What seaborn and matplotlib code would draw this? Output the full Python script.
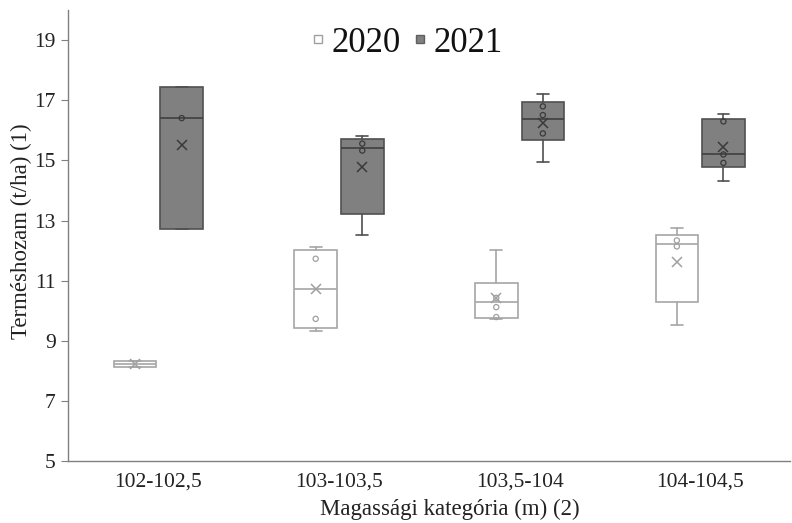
import numpy as np
import pandas as pd
import matplotlib
matplotlib.use("Agg")
import matplotlib.pyplot as plt
from matplotlib.lines import Line2D
import seaborn as sns

# data (t/ha)
categories = ["102-102,5", "103-103,5", "103,5-104", "104-104,5"]
years = ["2020", "2021"]

# box stats per category: lower whisker, Q1, median, Q3, upper whisker, mean
lo_2020 = [8.13, 9.32, 9.72, 9.53]
q1_2020 = [8.13, 9.41, 9.75, 10.28]
med_2020 = [8.23, 10.72, 10.29, 12.22]
q3_2020 = [8.33, 12.03, 10.92, 12.53]
hi_2020 = [8.33, 12.13, 12.03, 12.76]
mean_2020 = [8.22, 10.72, 10.44, 11.61]

lo_2021 = [12.73, 12.51, 14.94, 14.33]
q1_2021 = [12.73, 13.21, 15.68, 14.78]
med_2021 = [16.41, 15.42, 16.37, 15.23]
q3_2021 = [17.43, 15.73, 16.93, 16.37]
hi_2021 = [17.43, 15.81, 17.20, 16.53]
mean_2021 = [15.51, 14.79, 16.26, 15.46]

# inner points shown inside the boxes
pts_2020 = [[], [9.73, 11.73], [9.79, 10.12, 10.43], [12.14, 12.34]]
pts_2021 = [[16.41], [15.33, 15.56], [15.90, 16.51, 16.80], [14.92, 15.20, 16.30]]

sns.set_style("white")
plt.rcParams['font.family'] = ['Liberation Serif', 'DejaVu Serif']

fig = plt.figure(figsize=(7.92, 5.23), dpi=100)
ax = fig.add_axes([0.086, 0.1185, 0.912, 0.862])

off = 0.129
width = 0.236

styles = {
    "2020": dict(face="white", edge="#a6a6a6", med="#a6a6a6", mean="#a0a0a0", pt="#a0a0a0"),
    "2021": dict(face="#808080", edge="#505050", med="#404040", mean="#3a3a3a", pt="#3a3a3a"),
}
stats_src = {
    "2020": (lo_2020, q1_2020, med_2020, q3_2020, hi_2020, mean_2020, pts_2020, -off),
    "2021": (lo_2021, q1_2021, med_2021, q3_2021, hi_2021, mean_2021, pts_2021, off),
}

rows = []
for yr in years:
    lo, q1, med, q3, hi, mn, pts, dx = stats_src[yr]
    st = styles[yr]
    stats = []
    for i in range(len(categories)):
        stats.append(dict(whislo=lo[i], q1=q1[i], med=med[i], q3=q3[i],
                          whishi=hi[i], mean=mn[i], fliers=[]))
        for v in pts[i]:
            rows.append(dict(x=i + dx, y=v, year=yr))
    pos = np.arange(len(categories)) + dx
    ax.bxp(stats, positions=pos, widths=width, patch_artist=True,
           showmeans=True, showfliers=False, capwidths=0.065,
           boxprops=dict(facecolor=st["face"], edgecolor=st["edge"], linewidth=1.2),
           medianprops=dict(color=st["med"], linewidth=1.2),
           whiskerprops=dict(color=st["edge"], linewidth=1.2),
           capprops=dict(color=st["edge"], linewidth=1.2),
           meanprops=dict(marker="x", markeredgecolor=st["mean"], markersize=7,
                          markeredgewidth=1.1))

pts_df = pd.DataFrame(rows)
for yr in years:
    sub = pts_df[pts_df["year"] == yr]
    sns.scatterplot(data=sub, x="x", y="y", ax=ax, marker="o", s=14,
                    facecolor="none", edgecolor=styles[yr]["pt"], linewidth=0.9,
                    legend=False, zorder=5)

ax.set_xlim(-0.5, 3.5)
ax.set_ylim(5, 20)
ax.set_yticks(np.arange(5, 20, 2))
ax.set_xticks(range(len(categories)))
ax.set_xticklabels(categories)
ax.set_xticks([0.5, 1.5, 2.5], minor=True)
ax.tick_params(axis="x", which="major", length=0, labelsize=15.5, pad=8, colors="#222222")
ax.tick_params(axis="x", which="minor", length=5, direction="out", color="#808080")
ax.tick_params(axis="y", length=5, direction="out", labelsize=15.5, color="#808080",
               labelcolor="#222222", left=True, pad=4)
for s in ["top", "right"]:
    ax.spines[s].set_visible(False)
for s in ["left", "bottom"]:
    ax.spines[s].set_color("#808080")
    ax.spines[s].set_linewidth(1.0)

ax.set_xlabel("Magassági kategória (m) (2)", fontsize=16.5, color="#222222")
ax.set_ylabel("Terméshozam (t/ha) (1)", fontsize=16.5, color="#222222")
ax.xaxis.set_label_coords(0.529, -0.083)
ax.yaxis.set_label_coords(-0.05, 0.51)

handles = [
    Line2D([], [], marker="s", linestyle="", markersize=6,
           markerfacecolor="white", markeredgecolor="#a0a0a0"),
    Line2D([], [], marker="s", linestyle="", markersize=6,
           markerfacecolor="#808080", markeredgecolor="#606060"),
]
ax.legend(handles, years, loc="upper center", bbox_to_anchor=(0.468, 1.033), ncol=2,
          frameon=False, fontsize=25, handlelength=0.5, handletextpad=0.15,
          columnspacing=0.3, labelcolor="#111111")

fig.savefig("out.png", dpi=100)
